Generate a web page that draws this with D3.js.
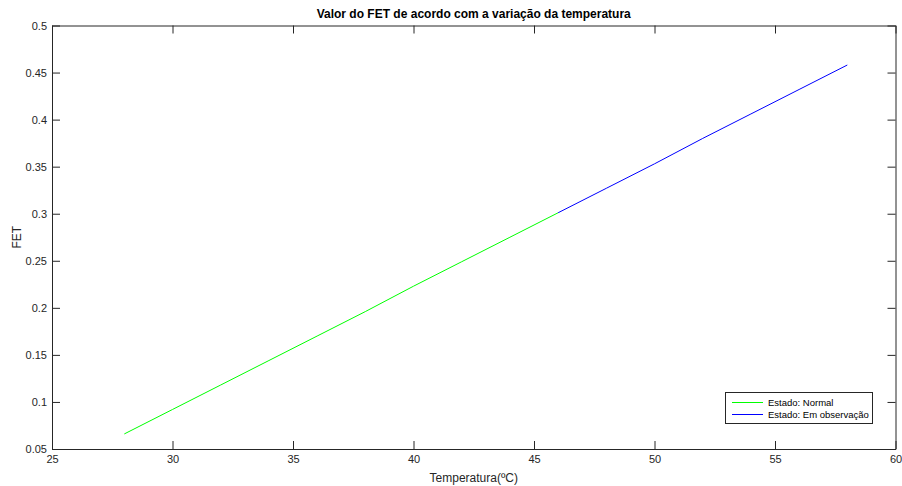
<!DOCTYPE html>
<html><head><meta charset="utf-8">
<script src="https://cdn.jsdelivr.net/npm/d3@7"></script>
<style>body{margin:0;background:#fff}svg{display:block}text{font-family:"Liberation Sans",Arial,Helvetica,sans-serif}</style>
</head><body>
<script>
const temps = [28, 30, 32, 34, 36, 38, 40, 42, 44, 46, 48, 50, 52, 54, 56, 58];
const fet = [0.066, 0.092, 0.118, 0.144, 0.170, 0.196, 0.223, 0.249, 0.275, 0.301, 0.327, 0.353, 0.380, 0.406, 0.432, 0.458];
const normalTemps = [28, 30, 32, 34, 36, 38, 40, 42, 44, 46];
const observTemps = [46, 48, 50, 52, 54, 56, 58];
const seriesNames = ["Estado: Normal", "Estado: Em observação"];
const xTicks = [25, 30, 35, 40, 45, 50, 55, 60];
const yTicks = [0.05, 0.1, 0.15, 0.2, 0.25, 0.3, 0.35, 0.4, 0.45, 0.5];
const title = "Valor do FET de acordo com a variação da temperatura";
const xLabel = "Temperatura(ºC)";
const yLabel = "FET";

const W = 902, H = 486;
const L = 52, R = 895.5, T = 25.5, B = 449;
const svg = d3.select("body").append("svg").attr("width", W).attr("height", H);
const x = d3.scaleLinear().domain([25, 60]).range([L, R]);
const y = d3.scaleLinear().domain([0.05, 0.5]).range([B, T]);
const axisCol = "#262626";
const tickLen = 8;

const gx = svg.append("g").attr("transform", `translate(0,${B})`)
  .call(d3.axisBottom(x).tickValues(xTicks).tickFormat(d3.format("")).tickSizeInner(-tickLen).tickSizeOuter(0).tickPadding(6));
const gxt = svg.append("g").attr("transform", `translate(0,${T})`)
  .call(d3.axisTop(x).tickValues(xTicks).tickFormat("").tickSizeInner(-tickLen).tickSizeOuter(0));
const gy = svg.append("g").attr("transform", `translate(${L},0)`)
  .call(d3.axisLeft(y).tickValues(yTicks).tickFormat(d => String(+d.toFixed(2))).tickSizeInner(-tickLen).tickSizeOuter(0).tickPadding(5));
const gyr = svg.append("g").attr("transform", `translate(${R},0)`)
  .call(d3.axisRight(y).tickValues(yTicks).tickFormat("").tickSizeInner(-tickLen).tickSizeOuter(0));
[gx, gxt, gy, gyr].forEach(g => {
  g.selectAll("path.domain").attr("stroke", axisCol).attr("stroke-width", 1);
  g.selectAll(".tick line").attr("stroke", axisCol);
  g.selectAll(".tick text").attr("fill", axisCol).style("font-size", "11px").style("font-family", '"Liberation Sans",Arial,sans-serif');
});

const fetAt = t => fet[temps.indexOf(t)];
const line = d3.line().x(d => x(d)).y(d => y(fetAt(d)));
svg.append("path").attr("d", line(normalTemps)).attr("fill", "none").attr("stroke", "#00ff00").attr("stroke-width", 1);
svg.append("path").attr("d", line(observTemps)).attr("fill", "none").attr("stroke", "#0000ff").attr("stroke-width", 1);

svg.append("text").attr("x", (L + R) / 2).attr("y", 18).attr("text-anchor", "middle")
  .style("font-size", "12px").style("font-weight", "bold").attr("fill", "#000").text(title);
svg.append("text").attr("x", (L + R) / 2).attr("y", 482).attr("text-anchor", "middle")
  .style("font-size", "12px").attr("fill", axisCol).text(xLabel);
svg.append("text").attr("transform", `translate(21,${(T + B) / 2}) rotate(-90)`).attr("text-anchor", "middle")
  .style("font-size", "12px").attr("fill", axisCol).text(yLabel);

// legend
const lg = svg.append("g");
lg.append("rect").attr("x", 725.5).attr("y", 392.5).attr("width", 147).attr("height", 31)
  .attr("fill", "#fff").attr("stroke", axisCol).attr("stroke-width", 1);
const legCols = ["#00ff00", "#0000ff"];
seriesNames.forEach((n, i) => {
  const yy = 402.5 + i * 12;
  lg.append("line").attr("x1", 732).attr("x2", 763).attr("y1", yy).attr("y2", yy).attr("stroke", legCols[i]);
  lg.append("text").attr("x", 768).attr("y", yy + 3.5).style("font-size", "9.5px").attr("fill", "#000").text(n);
});
</script>
</body></html>
